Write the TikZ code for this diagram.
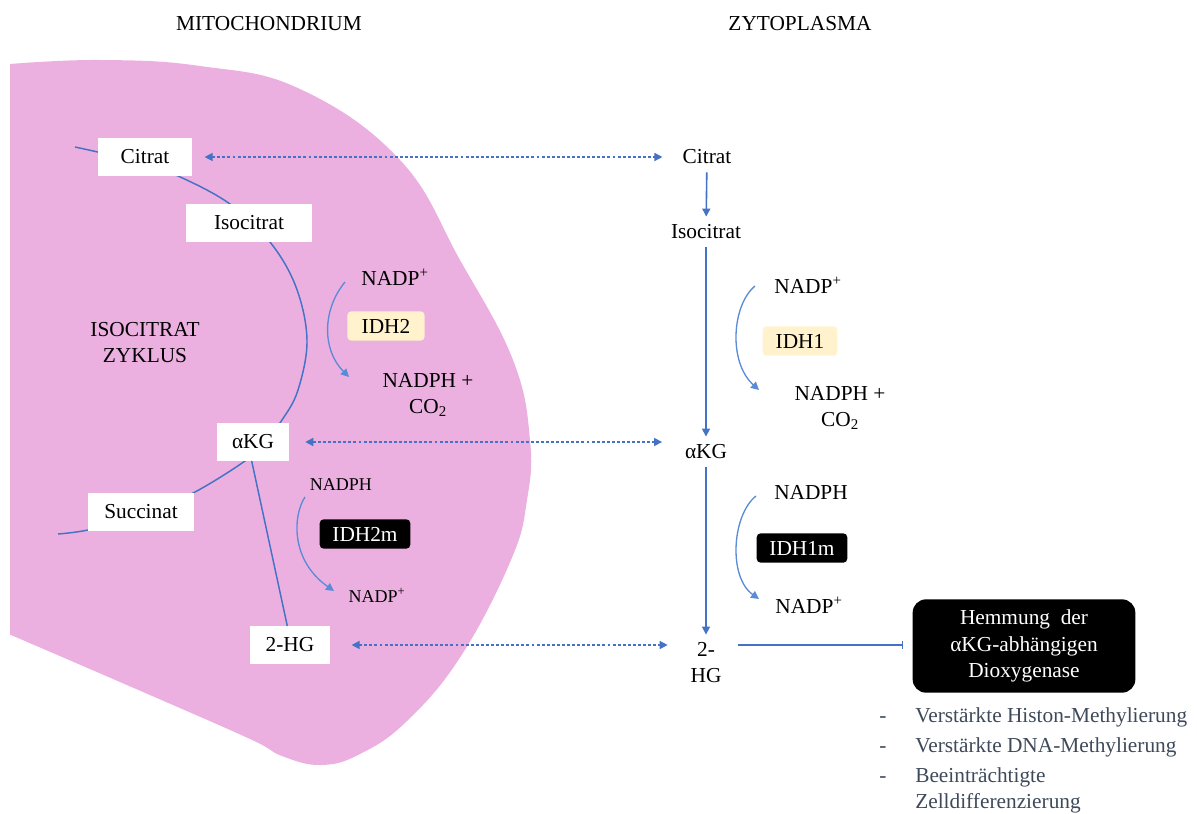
\documentclass[tikz,border=0pt]{standalone}
\usepackage{fontspec}
\setmainfont{Liberation Serif}
\usetikzlibrary{arrows.meta}
\definecolor{blob}{HTML}{EBB0E0}
\definecolor{lineblue}{HTML}{4472C4}
\definecolor{arcblue}{HTML}{5B8BD6}
\definecolor{cream}{HTML}{FFF2CC}
\definecolor{slate}{HTML}{3E4A5A}
\begin{document}
\begin{tikzpicture}[x=0.75pt,y=-0.75pt,
  txt/.style={font=\fontsize{16}{19.5}\selectfont, inner sep=0pt, align=center},
  smalltxt/.style={font=\fontsize{13.5}{16}\selectfont, inner sep=0pt},
  wbox/.style={fill=white, font=\fontsize{16}{19}\selectfont, minimum height=28pt, inner sep=0pt},
  col/.style={txt, inner xsep=0pt, inner ysep=6pt},
  enz/.style={rounded corners=3pt, font=\fontsize{16}{19}\selectfont, minimum height=22pt, inner sep=0pt},
  light/.style={enz, fill=cream},
  dark/.style={enz, fill=black, text=white},
  arr/.style={draw=lineblue, line width=1.2pt, -{Triangle[length=6pt,width=6pt]}},
  dotarr/.style={draw=lineblue, line width=1.1pt, dash pattern=on 2.2pt off 1.6pt,
    {Triangle[length=6pt,width=6pt]}-{Triangle[length=6pt,width=6pt]}},
  curvearr/.style={draw=arcblue, line width=1pt, -{Triangle[length=6pt,width=6pt]}},
  inh/.style={draw=lineblue, line width=1.1pt, -{Bar[width=6pt]}},
  bul/.style={font=\fontsize{16}{19.5}\selectfont, text=slate, inner sep=0pt, align=left}
]
\useasboundingbox (0,0) rectangle (1197,814);

% mitochondrion
\fill[blob] (10,635) -- (10,64) -- plot[smooth, tension=0.7] coordinates {(10,64) (100,60) (200,66) (300,89) (400,160) (460,260) (513,360) (530,440) (527,500) (511,560) (461,656) (407,721) (360,754) (321,765) (282,756) (250,739) (143,692) (11,635)} -- cycle;

% cycle line (behind boxes)
\draw[lineblue, line width=1.1pt] plot[smooth, tension=0.6] coordinates {(75,147) (135,161) (178,176) (230,204) (270,242) (296,287) (307,340) (298,390) (282,420) (262,445) (245,461) (195,492) (140,517) (88,530) (58,534)};

% headers
\node[txt] (hmito) at (269,24) {MITOCHONDRIUM};
\node[txt] (hcyto) at (800,24) {ZYTOPLASMA};

% mitochondrial metabolites
\node[wbox, minimum width=71pt] (mcit) at (145,157) {Citrat};
\node[wbox, minimum width=94.5pt] (miso) at (249,223) {Isocitrat};
\node[wbox, minimum width=54pt] (makg) at (253,442) {αKG};
\node[wbox, minimum width=79.5pt] (msuc) at (141,512) {Succinat};
\node[wbox, minimum width=60pt] (m2hg) at (290,645) {2-HG};
\draw[lineblue, line width=1.1pt] (makg.south) ++(-1pt,0) -- ([xshift=-2pt]m2hg.north);

\node[txt] (zyk) at (145,343) {ISOCITRAT\\ZYKLUS};

% IDH2
\node[txt] (m1a) at (395,277) {NADP\textsuperscript{+}};
\node[light, minimum width=58pt] (idh2) at (386,326) {IDH2};
\node[txt] (m1b) at (428,395) {NADPH +\\CO\textsubscript{2}};
\coordinate (m1s) at (345,282);
\coordinate (m1e) at (349,377);
\draw[curvearr] (m1s) .. controls (322,310) and (322,350) .. (m1e);

% IDH2m
\node[smalltxt] (m2a) at (341,485) {NADPH};
\node[dark, minimum width=68pt] (idh2m) at (365,534) {IDH2m};
\node[smalltxt] (m2b) at (377,595) {NADP\textsuperscript{+}};
\coordinate (m2s) at (305,497);
\coordinate (m2e) at (334,591);
\draw[curvearr] (m2s) .. controls (293,515) and (290,560) .. (m2e);

% cytoplasm metabolites
\node[col] (ccit) at (707,157) {Citrat};
\node[col] (ciso) at (706,232) {Isocitrat};
\node[col] (cakg) at (706,452) {αKG};
\node[col] (c2hg) at (706,663) {2-\\HG};
\draw[arr] (ccit) -- (ciso);
\draw[arr] (ciso) -- (cakg);
\draw[arr] (cakg) -- (c2hg);

% IDH1
\node[txt] (c1a) at (808,285) {NADP\textsuperscript{+}};
\node[light, minimum width=56pt] (idh1) at (800,341) {IDH1};
\node[txt] (c1b) at (840,408) {NADPH +\\CO\textsubscript{2}};
\coordinate (c1s) at (755,286);
\coordinate (c1e) at (759,390);
\draw[curvearr] (c1s) .. controls (732,305) and (728,362) .. (c1e);

% IDH1m
\node[txt] (c2a) at (811,492) {NADPH};
\node[dark, minimum width=68pt] (idh1m) at (802,548) {IDH1m};
\node[txt] (c2b) at (809,605) {NADP\textsuperscript{+}};
\coordinate (c2s) at (756,496);
\coordinate (c2e) at (759,599);
\draw[curvearr] (c2s) .. controls (732,515) and (728,577) .. (c2e);

% transport arrows
\draw[dotarr, shorten <=9pt, shorten >=15pt] (mcit.east) -- (mcit.east -| ccit.west);
\draw[dotarr, shorten <=12pt, shorten >=17pt] (makg.east) -- (makg.east -| cakg.west);
\draw[dotarr, shorten <=16pt, shorten >=17pt] (m2hg.east) -- (m2hg.east -| c2hg.west);

% inhibition
\node[rounded corners=10pt, fill=black, text=white, font=\fontsize{16}{20}\selectfont, align=center, minimum width=167pt, minimum height=70pt, inner sep=0pt] (hem) at (1024,646) {\raisebox{-3pt}{\parbox{160pt}{\centering Hemmung\ \ der\\αKG-abhängigen\\Dioxygenase}}};
\draw[inh, shorten <=12pt, shorten >=7pt] (m2hg.east -| c2hg.east) -- (m2hg.east -| hem.west);

% consequences
\node[bul, anchor=base] (d1) at (883,722) {-};
\node[bul, anchor=base] (d2) at (883,752) {-};
\node[bul, anchor=base] (d3) at (883,782) {-};
\node[bul, anchor=base west] (b1) at (915,722) {Verstärkte Histon-Methylierung};
\node[bul, anchor=base west] (b2) at (915,752) {Verstärkte DNA-Methylierung};
\node[bul, anchor=base west] (b3) at (915,782) {Beeinträchtigte};
\node[bul, anchor=base west] (b4) at (915,808) {Zelldifferenzierung};
\end{tikzpicture}
\end{document}
